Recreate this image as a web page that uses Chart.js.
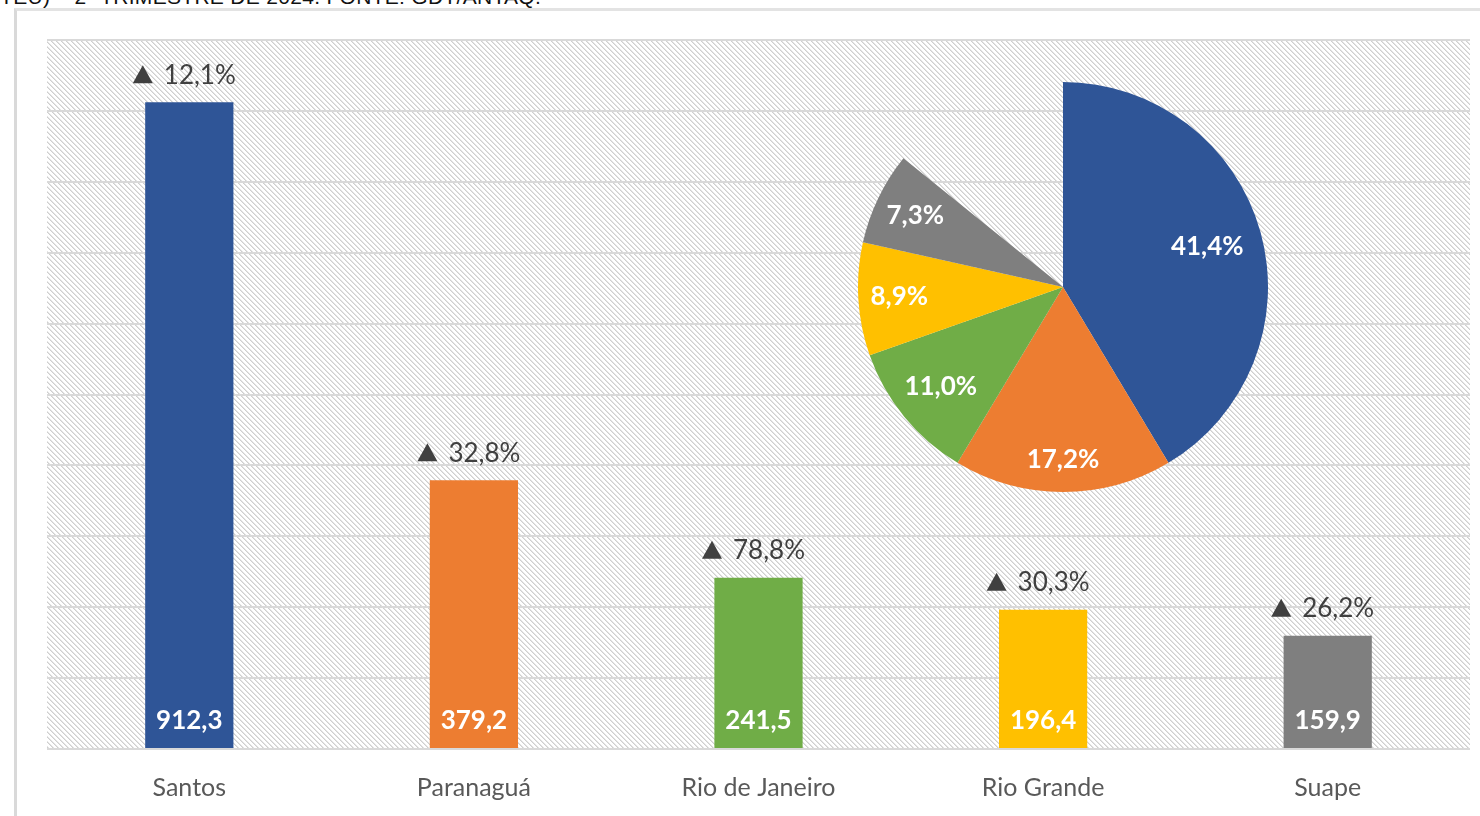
<!DOCTYPE html>
<html>
<head>
<meta charset="utf-8">
<script src="https://cdn.jsdelivr.net/npm/chart.js@4.4.1/dist/chart.umd.min.js"></script>
<style>
  html, body { margin: 0; padding: 0; background: #fff; width: 1480px; height: 816px; overflow: hidden; }
  #title { position: absolute; left: 0; top: -15px; font-family: "Liberation Sans", Arial, sans-serif; font-size: 21px; color: #111; white-space: nowrap; letter-spacing: 0.3px; }
  #frame { position: absolute; left: 14px; top: 8px; width: 1480px; height: 820px; border-left: 3px solid #d9d9d9; border-top: 3px solid #e3e3e3; box-sizing: border-box; }
  #barWrap { position: absolute; left: 0; top: 0; width: 1480px; height: 816px; }
  #pieWrap { position: absolute; left: 858px; top: 82px; width: 410px; height: 410px; }
</style>
</head>
<body>
<div id="title">TEU) – 2º TRIMESTRE DE 2024. FONTE: GDT/ANTAQ.</div>
<div id="frame"></div>
<div id="barWrap"><canvas id="bar" width="1480" height="816"></canvas></div>
<div id="pieWrap"><canvas id="pie" width="410" height="410"></canvas></div>
<script>
// ---- data ----
const categories = ['Santos', 'Paranaguá', 'Rio de Janeiro', 'Rio Grande', 'Suape'];
const teuValues = [912.3, 379.2, 241.5, 196.4, 159.9];
const growthLabels = ['12,1%', '32,8%', '78,8%', '30,3%', '26,2%'];
const sharePct = [41.4, 17.2, 11.0, 8.9, 7.3];
const yTicks = [0, 100, 200, 300, 400, 500, 600, 700, 800, 900, 1000];
const palette = ['#2F5597', '#ED7D31', '#70AD47', '#FFC000', '#7F7F7F'];

const FONT = 'Lato, "Open Sans", sans-serif';
const fmt = v => v.toFixed(1).replace('.', ',');

function makeHatch() {
  const c = document.createElement('canvas');
  c.width = 5; c.height = 5;
  const g = c.getContext('2d');
  g.fillStyle = '#ffffff'; g.fillRect(0, 0, 5, 5);
  for (let i = 0; i < 5; i++) {
    g.fillStyle = '#cfcfcf'; g.fillRect(i, i, 1, 1);
    g.fillStyle = '#e4e4e4'; g.fillRect((i + 1) % 5, i, 1, 1);
  }
  return c;
}

const hatchPlugin = {
  id: 'hatch',
  beforeDraw(chart) {
    const { ctx, chartArea: a } = chart;
    ctx.save();
    ctx.fillStyle = ctx.createPattern(makeHatch(), 'repeat');
    ctx.fillRect(a.left, a.top, a.right - a.left, a.bottom - a.top);
    ctx.restore();
  }
};

const barLabels = {
  id: 'barLabels',
  afterDatasetsDraw(chart) {
    const { ctx } = chart;
    const meta = chart.getDatasetMeta(0);
    const yb = chart.scales.y.getPixelForValue(0);
    ctx.save();
    ctx.textBaseline = 'middle';
    meta.data.forEach((bar, i) => {
      // growth label with triangle
      ctx.font = '26px ' + FONT;
      const tw = ctx.measureText(growthLabels[i]).width;
      const triW = 20, gap = 11;
      const total = triW + gap + tw;
      const x0 = bar.x - 5 - total / 2;
      const yc = bar.y - 28;
      ctx.fillStyle = '#404040';
      ctx.beginPath();
      ctx.moveTo(x0, yc + 9);
      ctx.lineTo(x0 + triW, yc + 9);
      ctx.lineTo(x0 + triW / 2, yc - 9);
      ctx.closePath();
      ctx.fill();
      ctx.textAlign = 'left';
      ctx.fillText(growthLabels[i], x0 + triW + gap, yc + 1);
      // value label
      ctx.textAlign = 'center';
      ctx.font = 'bold 26px ' + FONT;
      ctx.fillStyle = '#ffffff';
      ctx.fillText(fmt(teuValues[i]), bar.x, yb - 28);
    });
    ctx.restore();
  }
};

new Chart(document.getElementById('bar'), {
  type: 'bar',
  data: {
    labels: categories,
    datasets: [{
      data: teuValues,
      backgroundColor: palette,
      borderWidth: 0,
      barPercentage: 0.31,
      categoryPercentage: 1.0
    }]
  },
  options: {
    responsive: false,
    animation: false,
    layout: { padding: { left: 47, right: 10, top: 40, bottom: 0 } },
    plugins: { legend: { display: false }, tooltip: { enabled: false } },
    scales: {
      x: {
        grid: { display: false, drawTicks: false },
        border: { display: false },
        ticks: { color: '#595959', font: { family: FONT, size: 25 }, padding: 24 },
        afterFit(s) { s.height = 67; }
      },
      y: {
        min: 0, max: 1000,
        afterBuildTicks(s) { s.ticks = yTicks.map(v => ({ value: v })); },
        ticks: { display: false },
        grid: { color: '#d9d9d9', lineWidth: 2, drawTicks: false },
        border: { display: false },
        afterFit(s) { s.width = 0; }
      }
    }
  },
  plugins: [hatchPlugin, barLabels]
});

const labelRadius = [0.73, 0.84, 0.77, 0.8, 0.8];
const pieLabels = {
  id: 'pieLabels',
  afterDatasetsDraw(chart) {
    const { ctx } = chart;
    const meta = chart.getDatasetMeta(0);
    ctx.save();
    ctx.font = 'bold 26px ' + FONT;
    ctx.fillStyle = '#ffffff';
    ctx.textAlign = 'center';
    ctx.textBaseline = 'middle';
    meta.data.forEach((arc, i) => {
      const mid = (arc.startAngle + arc.endAngle) / 2;
      const r = arc.outerRadius * labelRadius[i];
      ctx.fillText(fmt(sharePct[i]) + '%', arc.x + Math.cos(mid) * r, arc.y + Math.sin(mid) * r);
    });
    ctx.restore();
  }
};

new Chart(document.getElementById('pie'), {
  type: 'pie',
  data: {
    labels: categories,
    datasets: [{ data: sharePct, backgroundColor: palette, borderWidth: 0 }]
  },
  options: {
    responsive: false,
    animation: false,
    rotation: 0,
    circumference: sharePct.reduce((a, b) => a + b, 0) * 3.6,
    layout: { padding: 0 },
    plugins: { legend: { display: false }, tooltip: { enabled: false } }
  },
  plugins: [pieLabels]
});
</script>
</body>
</html>
